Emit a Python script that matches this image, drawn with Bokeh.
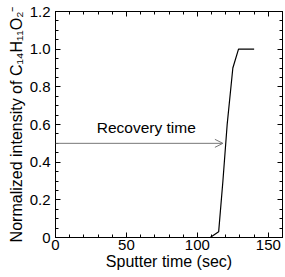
from bokeh.plotting import figure
from bokeh.models import (LinearAxis, FixedTicker, Range1d, Arrow, OpenHead, Label)
from bokeh.embed import file_html
from bokeh.resources import INLINE

# Normalized C14H11O2- intensity vs sputter time
time_sec = [109, 115, 118, 121, 125, 129, 140]
intensity = [0.0, 0.03, 0.30, 0.60, 0.90, 1.0, 1.0]

x_ticks = [0, 50, 100, 150]
y_ticks = [0, 0.2, 0.4, 0.6, 0.8, 1.0, 1.2]
y_tick_labels = {0: "0", 0.2: "0.2", 0.4: "0.4", 0.6: "0.6", 0.8: "0.8", 1.0: "1.0", 1.2: "1.2"}

recovery_start = 0
recovery_end = 118
recovery_level = 0.5

FONT = "Liberation Sans"
FS = "15px"
FS_LABEL = "16px"

p = figure(width=285, height=277, output_backend="svg", toolbar_location=None,
           x_range=Range1d(0, 160), y_range=Range1d(0, 1.2),
           min_border_left=55, min_border_right=3, min_border_top=11, min_border_bottom=40)
p.xgrid.visible = False
p.ygrid.visible = False
p.outline_line_color = "black"
p.outline_line_width = 1
p.background_fill_color = "white"
p.border_fill_color = "white"

x_minor = [v for v in range(0, 161, 10)]
y_minor = [round(i * 0.05, 2) for i in range(0, 25)]


def style_axis(ax, labels=True):
    ax.major_tick_in = 5
    ax.major_tick_out = 0
    ax.minor_tick_in = 3
    ax.minor_tick_out = 0
    ax.axis_line_color = "black"
    ax.major_tick_line_color = "black"
    ax.minor_tick_line_color = "black"
    ax.major_label_text_font = FONT
    ax.major_label_text_font_size = FS
    ax.major_label_text_color = "black"
    ax.axis_label_text_font = FONT
    ax.axis_label_text_font_size = FS_LABEL
    ax.axis_label_text_font_style = "normal"
    ax.axis_label_text_color = "black"
    if not labels:
        ax.major_label_text_font_size = "0px"
        ax.major_label_text_alpha = 0


xa = p.xaxis[0]
xa.ticker = FixedTicker(ticks=x_ticks, minor_ticks=x_minor)
xa.axis_label = "Sputter time (sec)"
xa.axis_label_standoff = 0
xa.major_label_standoff = 2
style_axis(xa)

ya = p.yaxis[0]
ya.ticker = FixedTicker(ticks=y_ticks, minor_ticks=y_minor)
ya.major_label_overrides = y_tick_labels
ya.axis_label = "Normalized intensity of C\u2081\u2084H\u2081\u2081O\u2082\u207b"
ya.axis_label_standoff = 2
ya.major_label_standoff = 5
style_axis(ya)

ra = LinearAxis(ticker=FixedTicker(ticks=y_ticks, minor_ticks=y_minor))
style_axis(ra, labels=False)
p.add_layout(ra, "right")

ta = LinearAxis(ticker=FixedTicker(ticks=x_ticks, minor_ticks=x_minor))
style_axis(ta, labels=False)
p.add_layout(ta, "above")

p.line(time_sec, intensity, line_color="black", line_width=1.2)

p.add_layout(Arrow(end=OpenHead(size=8, line_color="#777777", line_width=1),
                   x_start=recovery_start, y_start=recovery_level,
                   x_end=recovery_end, y_end=recovery_level,
                   line_color="#777777", line_width=1))

p.add_layout(Label(x=64, y=0.54, text="Recovery time", text_align="center",
                   text_font=FONT, text_font_size="15.5px", text_color="black"))

open("out.html", "w").write(file_html(p, INLINE))
